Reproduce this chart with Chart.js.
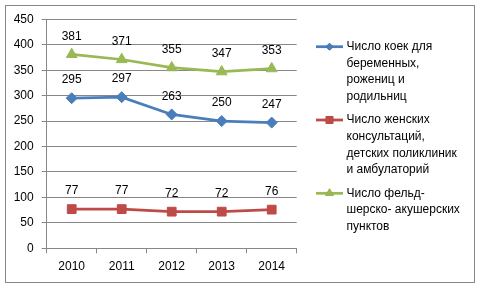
<!DOCTYPE html>
<html>
<head>
<meta charset="utf-8">
<script src="https://cdn.jsdelivr.net/npm/chart.js@4/dist/chart.umd.min.js"></script>
<style>
  html, body { margin: 0; padding: 0; background: #fff; }
  #wrap { width: 481px; height: 288px; }
</style>
</head>
<body>
<div id="wrap"><canvas id="chart" width="481" height="288"></canvas></div>
<script>
const years = ["2010", "2011", "2012", "2013", "2014"];
const beds = [295, 297, 263, 250, 247];
const clinics = [77, 77, 72, 72, 76];
const fap = [381, 371, 355, 347, 353];

const legendLines = [
  ["Число коек для", "беременных,", "рожениц и", "родильниц"],
  ["Число женских", "консультаций,", "детских поликлиник", "и амбулаторий"],
  ["Число фельд-", "шерско- акушерских", "пунктов"]
];

const FONT = "'Liberation Sans', Arial, sans-serif";
const GRID = "#878787";

Chart.defaults.font.family = FONT;
Chart.defaults.font.size = 12;
Chart.defaults.color = "#000";

/* value labels above every point */
const valueLabels = {
  id: "valueLabels",
  afterDatasetsDraw(chart) {
    const ctx = chart.ctx;
    ctx.save();
    ctx.font = "12px " + FONT;
    ctx.fillStyle = "#000";
    ctx.textAlign = "center";
    ctx.textBaseline = "middle";
    chart.data.datasets.forEach((ds, i) => {
      chart.getDatasetMeta(i).data.forEach((pt, j) => {
        ctx.fillText(ds.data[j], pt.x, pt.y - 18);
      });
    });
    ctx.restore();
  }
};

/* outer frame + wrapped legend */
const legendMarker = [3.5, 5, 4.5];
const frameLegend = {
  id: "frameLegend",
  beforeDraw(chart) {
    const ctx = chart.ctx;
    ctx.save();
    ctx.fillStyle = "#fff";
    ctx.fillRect(0, 0, chart.width, chart.height);
    ctx.restore();
  },
  afterDraw(chart) {
    const ctx = chart.ctx;
    ctx.save();
    ctx.strokeStyle = GRID;
    ctx.lineWidth = 1;
    ctx.strokeRect(5.5, 5.5, 469, 277);

    const tops = [46.7, 120, 193.3];
    chart.data.datasets.forEach((ds, i) => {
      const y = tops[i];
      ctx.strokeStyle = ds.borderColor;
      ctx.lineWidth = ds.borderWidth;
      ctx.beginPath();
      ctx.moveTo(316, y);
      ctx.lineTo(343, y);
      ctx.stroke();
      ctx.lineWidth = 1;
      Chart.helpers.drawPoint(ctx, {
        pointStyle: ds.pointStyle,
        radius: legendMarker[i],
        rotation: 0,
        borderWidth: 1
      }, 329.5, y);
      ctx.fillStyle = ds.borderColor;
      ctx.fill();

      ctx.fillStyle = "#000";
      ctx.font = "12px " + FONT;
      ctx.textAlign = "left";
      ctx.textBaseline = "middle";
      legendLines[i].forEach((t, k) => ctx.fillText(t, 346.5, y + k * 16.7));
    });
    ctx.restore();
  }
};

function series(label, data, color, style, radius) {
  return {
    label, data,
    borderColor: color,
    backgroundColor: color,
    pointBackgroundColor: color,
    pointBorderColor: color,
    borderWidth: 2.75,
    pointStyle: style,
    pointRadius: radius,
    pointBorderWidth: 1,
    tension: 0
  };
}

new Chart(document.getElementById("chart"), {
  type: "line",
  data: {
    labels: years,
    datasets: [
      series(legendLines[0].join(" "), beds, "#4A7EBB", "rectRot", 5.5),
      series(legendLines[1].join(" "), clinics, "#BE4B48", "rect", 6.2),
      series(legendLines[2].join(" "), fap, "#98B954", "triangle", 6.2)
    ]
  },
  options: {
    responsive: false,
    animation: false,
    layout: { padding: { left: 0, right: 184.3, top: 19.3, bottom: 0 } },
    plugins: { legend: { display: false }, tooltip: { enabled: false } },
    scales: {
      x: {
        offset: true,
        afterFit: s => { s.height = 39.7; },
        grid: { offset: true, drawOnChartArea: false, tickLength: 5, color: GRID },
        border: { color: GRID },
        ticks: { padding: 6 }
      },
      y: {
        min: 0,
        max: 450,
        afterFit: s => { s.width = 46.7; },
        grid: { color: GRID, tickLength: 5 },
        border: { color: GRID },
        ticks: { stepSize: 50, padding: 8 }
      }
    }
  },
  plugins: [valueLabels, frameLegend]
});
</script>
</body>
</html>
